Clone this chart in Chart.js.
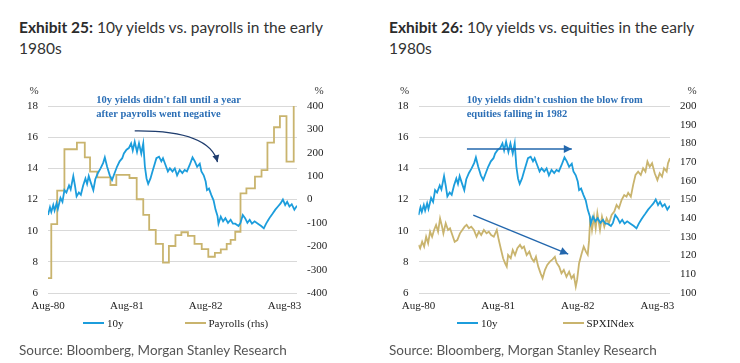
<!DOCTYPE html>
<html>
<head>
<meta charset="utf-8">
<script src="https://cdn.jsdelivr.net/npm/chart.js@4.4.0/dist/chart.umd.min.js"></script>
<style>
  body { margin: 0; width: 740px; height: 363px; background: #fff; overflow: hidden; font-family: Lato, "Open Sans", sans-serif; }
  .panel { position: absolute; top: 0; width: 370px; height: 363px; }
  .panel canvas { position: absolute; left: 0; top: 0; }
  .title { position: absolute; left: 19px; top: 17px; font-size: 15.5px; line-height: 20.5px; color: #333; white-space: nowrap; }
  .title b { font-weight: 700; color: #2b2b2b; }
  .legend { position: absolute; top: 315px; display: flex; font-family: "Liberation Serif", serif; font-size: 11px; color: #222; line-height: 16px; }
  .legend .item { display: flex; align-items: center; }
  .legend .swatch { width: 21px; height: 2px; margin-right: 3px; }
  .source { position: absolute; left: 19px; top: 342px; font-size: 13.5px; color: #555; white-space: nowrap; }
</style>
</head>
<body>
<div class="panel" style="left:0">
  <div class="title"><b>Exhibit 25:</b> 10y yields vs. payrolls in the early<br>1980s</div>
  <canvas id="c1" width="370" height="363"></canvas>
  <div class="legend" id="l1" style="left:83px"></div>
  <div class="source">Source: Bloomberg, Morgan Stanley Research</div>
</div>
<div class="panel" style="left:370px">
  <div class="title"><b>Exhibit 26:</b> 10y yields vs. equities in the early<br>1980s</div>
  <canvas id="c2" width="370" height="363"></canvas>
  <div class="legend" id="l2" style="left:87px"></div>
  <div class="source">Source: Bloomberg, Morgan Stanley Research</div>
</div>
<script>
// x values are months since Aug-80
const tickMonths = [0, 12, 24, 36];
const tickLabels = ['Aug-80', 'Aug-81', 'Aug-82', 'Aug-83'];
const lastMonth = 37.9;

// 10y yield, %
const yieldMonths = [0.0, 0.3, 0.5, 0.8, 1.0, 1.3, 1.5, 1.9, 2.2, 2.5, 2.8, 3.2, 3.45, 3.85, 4.1, 4.35, 4.7, 5.0, 5.35, 5.7,
  5.95, 6.2, 6.5, 6.9, 7.2, 7.6, 8.0, 8.4, 8.65, 9.0, 9.4, 9.75, 10.1, 10.5, 10.9, 11.3, 11.55, 11.95, 12.3, 12.65,
  12.9, 13.2, 13.55, 13.85, 14.2, 14.5, 14.75, 15.0, 15.25, 15.6, 15.9, 16.25, 16.5, 16.9, 17.25, 17.5, 17.9, 18.25, 18.55, 18.95,
  19.3, 19.65, 20.05, 20.45, 20.8, 21.15, 21.55, 22.0, 22.35, 22.7, 23.1, 23.35, 23.7, 24.0, 24.2, 24.5, 24.85, 25.2, 25.5, 25.8,
  25.95, 26.3, 26.65, 27.0, 27.4, 27.8, 28.15, 28.5, 29.0, 29.3, 29.65, 30.0, 30.35, 30.7, 31.05, 31.45, 31.95, 32.45, 32.85, 33.2,
  33.55, 33.85, 34.2, 34.6, 35.0, 35.4, 35.75, 36.1, 36.4, 36.75, 37.1, 37.5, 37.9];
const yieldValues = [11.0, 11.5, 11.2, 11.65, 11.3, 11.75, 11.4, 12.1, 11.85, 12.6, 12.45, 12.9, 12.65, 13.5, 12.9, 12.2, 12.45, 12.3, 12.9, 13.35,
  13.0, 13.5, 13.1, 12.6, 13.3, 13.7, 14.0, 14.35, 14.7, 14.1, 13.55, 13.25, 13.65, 14.1, 14.45, 14.65, 14.95, 15.2, 15.3, 15.6,
  15.15, 15.7, 15.05, 15.6, 14.95, 15.6, 14.1, 13.35, 13.0, 13.35, 13.8, 14.3, 14.65, 14.75, 14.45, 14.65, 14.2, 13.8, 14.0, 13.8,
  14.0, 13.55, 13.9, 13.7, 13.9, 13.8, 14.2, 14.7, 14.45, 14.1, 14.3, 13.8, 13.55, 13.15, 12.6, 12.7, 12.3, 11.95, 11.35, 10.95,
  10.45, 10.9, 10.6, 10.8, 10.5, 10.7, 10.45, 10.45, 10.3, 10.5, 11.0, 10.8, 10.5, 10.7, 10.45, 10.6, 10.45, 10.3, 10.15, 10.45,
  10.7, 10.9, 11.1, 11.35, 11.55, 11.75, 12.0, 11.65, 11.85, 11.55, 11.7, 11.35, 11.6];

// payrolls, monthly change in thousands; month at which each print takes over
const payrollMonths = [0, 0.5, 1.4, 2.5, 4.4, 5.6, 6.4, 7.5, 9.5, 10.4, 12.4, 13.5, 14.5, 15.4, 16.4, 17.5, 18.4, 19.4, 20.3, 21.3,
  22.3, 23.4, 24.4, 25.4, 26.3, 27.2, 27.8, 28.5, 29.3, 30.2, 31.5, 32.5, 33.4, 34.4, 35.3, 36.3, 37.4];
const payrollValues = [-336, -105, 38, 215, 243, 180, 119, 95, 62, 105, 92, 1, -66, -130, -190, -270, -199, -152, -140, -156,
  -190, -212, -245, -228, -213, -190, -173, -138, 26, 48, 98, 126, 243, 309, 357, 162, 400];

// S&P 500 index level
const spxMonths = [0.0, 0.25, 0.55, 0.85, 1.15, 1.45, 1.75, 2.05, 2.35, 2.65, 2.95, 3.25, 3.55, 3.75, 4.1, 4.45, 4.75, 5.1, 5.45, 5.85,
  6.25, 6.6, 6.95, 7.25, 7.6, 7.95, 8.35, 8.75, 9.1, 9.45, 9.85, 10.25, 10.6, 10.95, 11.35, 11.8, 12.1, 12.45, 12.75, 13.05,
  13.3, 13.5, 13.9, 14.2, 14.55, 14.9, 15.3, 15.6, 15.9, 16.3, 16.7, 17.05, 17.4, 17.7, 18.05, 18.4, 18.7, 19.05, 19.4, 19.8,
  20.2, 20.55, 20.8, 21.2, 21.55, 21.9, 22.3, 22.7, 23.05, 23.4, 23.7, 23.9, 24.2, 24.6, 24.9, 25.25, 25.5, 25.7, 25.9, 26.15,
  26.45, 26.7, 26.95, 27.35, 27.65, 28.0, 28.35, 28.7, 29.1, 29.5, 29.85, 30.2, 30.6, 31.0, 31.35, 31.6, 32.0, 32.35, 32.7, 33.1,
  33.5, 33.85, 34.2, 34.5, 34.85, 35.2, 35.6, 36.0, 36.35, 36.7, 37.0, 37.4, 37.6, 37.9];
const spxValues = [125.7, 123.9, 127.4, 124.8, 130.1, 126.6, 132.8, 130.1, 133.7, 136.4, 132.8, 139.9, 135.5, 131.9, 137.3, 133.7, 134.6, 131.0, 127.4, 128.3,
  131.9, 133.7, 135.5, 136.4, 134.6, 135.5, 133.7, 130.1, 132.8, 131.0, 133.7, 131.9, 132.8, 131.0, 130.1, 133.7, 128.3, 123.0, 118.6, 115.9,
  114.1, 120.3, 118.6, 123.0, 120.3, 123.9, 125.7, 123.9, 124.8, 120.3, 122.1, 118.6, 116.8, 119.4, 114.1, 110.5, 107.9, 112.3, 115.0, 116.8,
  118.0, 119.4, 116.2, 114.1, 110.5, 112.3, 108.7, 111.4, 107.9, 109.6, 103.4, 107.0, 115.9, 121.2, 124.8, 122.0, 120.5, 128.0, 141.0, 133.7,
  140.8, 134.6, 142.6, 133.7, 140.8, 135.5, 139.9, 137.3, 141.7, 143.5, 147.1, 145.3, 149.7, 152.4, 151.5, 153.6, 151.5, 157.8, 163.1, 164.9,
  163.1, 166.7, 164.9, 170.3, 167.5, 169.4, 164.0, 160.4, 164.0, 162.2, 166.7, 164.9, 169.4, 172.1];

const BLUE = '#1c9ddc';
const GOLD = '#c9b46e';

Chart.defaults.font.family = '"Liberation Serif", "Times New Roman", serif';
Chart.defaults.font.size = 11;
Chart.defaults.color = '#222';

const pairs = (xs, ys) => xs.map((x, i) => ({ x: x, y: ys[i] }));

function arrowHead(ctx, tx, ty, fx, fy, len, half) {
  const a = Math.atan2(ty - fy, tx - fx);
  const bx = tx - len * Math.cos(a), by = ty - len * Math.sin(a);
  ctx.beginPath();
  ctx.moveTo(tx, ty);
  ctx.lineTo(bx + half * Math.sin(a), by - half * Math.cos(a));
  ctx.lineTo(bx - half * Math.sin(a), by + half * Math.cos(a));
  ctx.closePath();
  ctx.fill();
}

// text note, % unit labels and arrows, placed in data coordinates
function notesPlugin(notes) {
  return {
    id: 'notes',
    afterDraw(chart) {
      const { ctx, chartArea, scales } = chart;
      const px = v => scales.x.getPixelForValue(v);
      const py = v => scales.y.getPixelForValue(v);
      ctx.save();
      ctx.font = '11px "Liberation Serif"';
      ctx.fillStyle = '#333';
      ctx.textAlign = 'center';
      ctx.textBaseline = 'middle';
      ctx.fillText('%', chartArea.left - 14, chartArea.top - 15);
      ctx.fillText('%', chartArea.right + 22, chartArea.top - 15);

      ctx.font = 'bold 10.5px "Liberation Serif"';
      ctx.fillStyle = '#2c6fb6';
      ctx.textAlign = 'left';
      notes.lines.forEach((t, i) => ctx.fillText(t, px(notes.textAt[0]), py(notes.textAt[1]) + i * 14));

      notes.arrows.forEach(a => {
        const x0 = px(a.from[0]), y0 = py(a.from[1]);
        const x1 = px(a.to[0]), y1 = py(a.to[1]);
        ctx.strokeStyle = a.color;
        ctx.fillStyle = a.color;
        ctx.lineWidth = a.width;
        ctx.beginPath();
        ctx.moveTo(x0, y0);
        let fx = x0, fy = y0;
        if (a.via) {
          fx = px(a.via[0]); fy = py(a.via[1]);
          ctx.quadraticCurveTo(fx, fy, x1, y1);
        } else {
          ctx.lineTo(x1, y1);
        }
        ctx.stroke();
        arrowHead(ctx, x1, y1, fx, fy, a.head, a.head / 2);
      });
      ctx.restore();
    }
  };
}

function buildChart(id, legendId, cfg) {
  const chart = new Chart(document.getElementById(id), {
    type: 'line',
    data: {
      datasets: [
        { label: '10y', data: pairs(yieldMonths, yieldValues), borderColor: BLUE, borderWidth: 1.8, pointRadius: 0, yAxisID: 'y' },
        { label: cfg.label, data: cfg.data, borderColor: GOLD, borderWidth: 1.8, pointRadius: 0, yAxisID: 'y1', stepped: cfg.stepped }
      ]
    },
    options: {
      responsive: false,
      animation: false,
      devicePixelRatio: 1,
      layout: { padding: { top: 106, left: 0, right: 0, bottom: 0 } },
      plugins: { legend: { display: false }, tooltip: { enabled: false } },
      scales: {
        x: {
          type: 'linear', min: 0, max: lastMonth,
          grid: { display: false, drawTicks: false }, border: { display: false },
          afterBuildTicks: s => { s.ticks = tickMonths.map(v => ({ value: v })); },
          afterFit: s => { s.height = 70; },
          ticks: { padding: 7, maxRotation: 0, autoSkip: false,
            callback: v => tickLabels[tickMonths.indexOf(v)] }
        },
        y: {
          position: 'left', min: 6, max: 18,
          grid: { color: '#d9d9d9', drawTicks: false }, border: { display: false },
          afterFit: s => { s.width = cfg.leftWidth; },
          ticks: { stepSize: 2, padding: 10 }
        },
        y1: {
          position: 'right', min: cfg.min, max: cfg.max,
          grid: { display: false, drawTicks: false }, border: { display: false },
          afterFit: s => { s.width = cfg.rightWidth; },
          ticks: { stepSize: cfg.step, padding: 10 }
        }
      }
    },
    plugins: [notesPlugin(cfg.notes)]
  });

  const legend = document.getElementById(legendId);
  chart.data.datasets.forEach((ds, i) => {
    const item = document.createElement('div');
    item.className = 'item';
    if (i > 0) item.style.marginLeft = cfg.legendGap + 'px';
    const sw = document.createElement('span');
    sw.className = 'swatch';
    sw.style.background = ds.borderColor;
    item.appendChild(sw);
    item.appendChild(document.createTextNode(ds.label));
    legend.appendChild(item);
  });
  return chart;
}

buildChart('c1', 'l1', {
  label: 'Payrolls (rhs)',
  data: pairs(payrollMonths, payrollValues),
  stepped: 'before',
  min: -400, max: 400, step: 100,
  leftWidth: 48, rightWidth: 73, legendGap: 61,
  notes: {
    lines: ["10y yields didn't fall until a year", 'after payrolls went negative'],
    textAt: [7.35, 18.38],
    arrows: [{ from: [13.2, 16.4], via: [24.6, 16.45], to: [25.8, 14.4], color: '#1f3d6e', width: 1.3, head: 7 }]
  }
});

buildChart('c2', 'l2', {
  label: 'SPXINdex',
  data: pairs(spxMonths, spxValues),
  stepped: false,
  min: 100, max: 200, step: 10,
  leftWidth: 48.5, rightWidth: 70, legendGap: 65,
  notes: {
    lines: ["10y yields didn't cushion the blow from", 'equities falling in 1982'],
    textAt: [7.26, 18.38],
    arrows: [
      { from: [7.3, 15.24], to: [23.1, 15.24], color: '#2367ad', width: 1.6, head: 8 },
      { from: [8.25, 11.0], to: [22.56, 8.5], color: '#2367ad', width: 1.4, head: 8 }
    ]
  }
});
</script>
</body>
</html>
